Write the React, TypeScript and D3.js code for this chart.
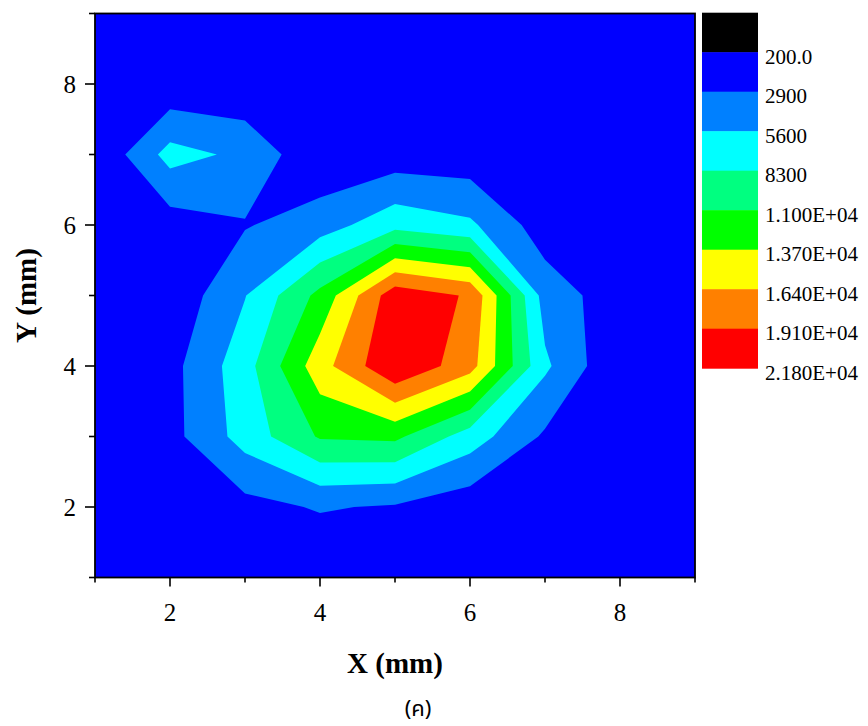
import React from "react";
import * as d3 from "d3";

// Grid coordinates (mm)
const xValues = [1, 2, 3, 4, 5, 6, 7, 8, 9];
const yValues = [9, 8, 7, 6, 5, 4, 3, 2, 1]; // rows listed top to bottom

// Intensity per grid node, one row per y (top row y = 9)
const rowY9 = [200, 200, 200, 200, 200, 200, 200, 200, 200];
const rowY8 = [300, 850, 650, 300, 300, 300, 300, 300, 200];
const rowY7 = [400, 6600, 5000, 700, 1340, 1200, 400, 300, 200];
const rowY6 = [300, 1600, 2700, 4300, 7400, 6100, 1450, 400, 200];
const rowY5 = [300, 850, 5500, 11800, 20800, 18800, 4400, 1400, 300];
const rowY4 = [300, 2000, 7200, 15300, 21600, 17500, 6100, 400, 200];
const rowY3 = [300, 2000, 6700, 11300, 11600, 7000, 2500, 300, 200];
const rowY2 = [200, 400, 2000, 3150, 2600, 1200, 400, 300, 200];
const rowY1 = [200, 200, 200, 200, 200, 200, 200, 200, 200];
const intensityRows = [rowY9, rowY8, rowY7, rowY6, rowY5, rowY4, rowY3, rowY2, rowY1];

// Contour levels and colours
const levels = [2900, 5600, 8300, 11000, 13700, 16400, 19100];
const levelColors = ["#0080FF", "#00FFFF", "#00FF80", "#00FF00", "#FFFF00", "#FF8000", "#FF0000"];
const baseColor = "#0000FF";

// Legend
const legendColors = ["#000000", "#0000FF", "#0080FF", "#00FFFF", "#00FF80", "#00FF00", "#FFFF00", "#FF8000", "#FF0000"];
const legendLabels = ["200.0", "2900", "5600", "8300", "1.100E+04", "1.370E+04", "1.640E+04", "1.910E+04", "2.180E+04"];

// Axis ticks
const majorTicks = [2, 4, 6, 8];
const minorTicks = [1, 3, 5, 7, 9];

const W = 868;
const H = 726;
const L = 95, R = 695, T = 13.5, B = 577.5;
const serif = "'Liberation Serif', 'Times New Roman', serif";

export default function App() {
  const xScale = d3.scaleLinear().domain([1, 9]).range([L, R]);
  const yScale = d3.scaleLinear().domain([1, 9]).range([B, T]);

  const nx = xValues.length;
  const ny = yValues.length;
  const flat = intensityRows.flat();
  const contours = d3.contours().size([nx, ny]).thresholds(levels)(flat);

  const transform = d3.geoTransform({
    point(this: any, x: number, y: number) {
      this.stream.point(xScale(x + 0.5), yScale(9.5 - y));
    },
  });
  const path = d3.geoPath(transform);

  const legX = 702, legW = 56, legTop = 12.7, bandH = 39.5;

  return (
    <svg width={W} height={H} style={{ position: "absolute", left: 0, top: 0, background: "#fff" }}>
      <defs>
        <clipPath id="plotClip">
          <rect x={L} y={T} width={R - L} height={B - T} />
        </clipPath>
      </defs>
      <g clipPath="url(#plotClip)">
        <rect x={L} y={T} width={R - L} height={B - T} fill={baseColor} />
        {contours.map((c, i) => (
          <path key={i} d={path(c as any) || ""} fill={levelColors[i]} stroke="none" />
        ))}
      </g>
      {/* frame */}
      <rect x={L} y={T} width={R - L} height={B - T} fill="none" stroke="#000" strokeWidth={1.8} />

      {/* x ticks */}
      {majorTicks.map((t) => (
        <g key={"xm" + t}>
          <line x1={xScale(t)} x2={xScale(t)} y1={B} y2={B + 9} stroke="#000" strokeWidth={1.6} />
          <text x={xScale(t)} y={621} textAnchor="middle" fontFamily={serif} fontSize={25}>{t}</text>
        </g>
      ))}
      {minorTicks.map((t) => (
        <line key={"xn" + t} x1={xScale(t)} x2={xScale(t)} y1={B} y2={B + 5} stroke="#000" strokeWidth={1.6} />
      ))}
      {/* y ticks */}
      {majorTicks.map((t) => (
        <g key={"ym" + t}>
          <line x1={L - 10} x2={L} y1={yScale(t)} y2={yScale(t)} stroke="#000" strokeWidth={1.6} />
          <text x={76} y={yScale(t)} dy="0.35em" textAnchor="end" fontFamily={serif} fontSize={25}>{t}</text>
        </g>
      ))}
      {minorTicks.map((t) => (
        <line key={"yn" + t} x1={L - 6} x2={L} y1={yScale(t)} y2={yScale(t)} stroke="#000" strokeWidth={1.6} />
      ))}

      {/* axis titles */}
      <text x={(L + R) / 2} y={673} textAnchor="middle" fontFamily={serif} fontSize={29} fontWeight="bold">X (mm)</text>
      <text transform={`translate(36, ${(T + B) / 2}) rotate(-90)`} textAnchor="middle" fontFamily={serif} fontSize={29} fontWeight="bold">Y (mm)</text>

      {/* legend */}
      {legendColors.map((c, i) => (
        <rect key={"lc" + i} x={legX} y={legTop + i * bandH} width={legW} height={bandH + 0.5} fill={c} />
      ))}
      {legendLabels.map((lab, i) => (
        <text key={"ll" + i} x={765} y={legTop + (i + 1) * bandH + 4} dy="0.35em" fontFamily={serif} fontSize={21}>{lab}</text>
      ))}

      {/* caption */}
      <text x={418} y={716} textAnchor="middle" fontFamily="'Noto Sans Thai', 'Noto Sans', 'DejaVu Sans', sans-serif" fontSize={22}>(ค)</text>
    </svg>
  );
}
